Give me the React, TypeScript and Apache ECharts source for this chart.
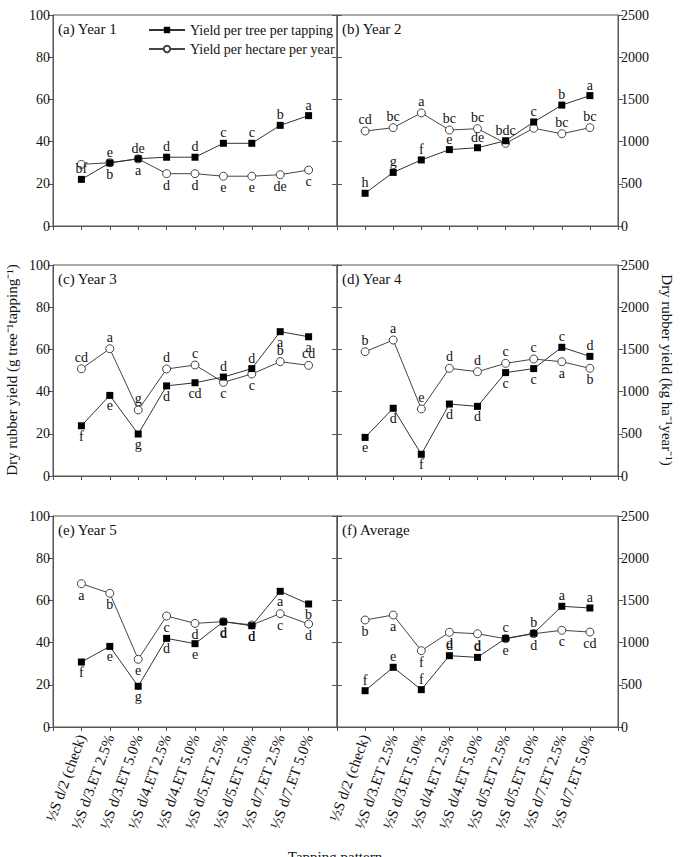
import React, { useEffect, useRef } from "react";
import * as echarts from "echarts";

const categories = [
  "½S d/2 (check)",
  "½S d/3.ET 2.5%",
  "½S d/3.ET 5.0%",
  "½S d/4.ET 2.5%",
  "½S d/4.ET 5.0%",
  "½S d/5.ET 2.5%",
  "½S d/5.ET 5.0%",
  "½S d/7.ET 2.5%",
  "½S d/7.ET 5.0%",
];

const panelTitles = ["(a) Year 1", "(b) Year 2", "(c) Year 3", "(d) Year 4", "(e) Year 5", "(f) Average"];

// Yield per tree per tapping (g tree-1 tapping-1)
const treeY1 = [22.1, 29.9, 31.9, 32.6, 32.6, 39.2, 39.2, 47.7, 52.3];
const treeY2 = [15.5, 25.4, 31.3, 36.2, 37.1, 40.4, 49.3, 57.3, 61.8];
const treeY3 = [23.8, 38.2, 19.9, 42.7, 44.2, 46.9, 50.9, 68.4, 66.0];
const treeY4 = [18.3, 32.1, 10.3, 34.1, 33.0, 49.0, 50.9, 61.0, 56.7];
const treeY5 = [30.8, 38.2, 19.3, 42.0, 39.5, 49.9, 48.0, 64.3, 58.3];
const treeAvg = [17.2, 28.3, 17.7, 33.8, 33.0, 42.0, 44.4, 57.2, 56.4];

// Yield per hectare per year (kg ha-1 year-1)
const haY1 = [730, 750, 795, 620, 620, 590, 590, 608, 663];
const haY2 = [1125, 1165, 1340, 1137, 1153, 980, 1158, 1093, 1165];
const haY3 = [1270, 1508, 782, 1268, 1315, 1110, 1209, 1354, 1311];
const haY4 = [1473, 1611, 794, 1276, 1236, 1335, 1386, 1354, 1276];
const haY5 = [1698, 1584, 802, 1315, 1228, 1248, 1209, 1343, 1220];
const haAvg = [1268, 1327, 904, 1122, 1105, 1046, 1105, 1146, 1125];

// significance letters
const treeLab1 = ["bf", "e", "de", "d", "d", "c", "c", "b", "a"];
const treeLab2 = ["h", "g", "f", "e", "de", "bdc", "c", "b", "a"];
const treeLab3 = ["f", "e", "g", "d", "cd", "d", "d", "a", "a"];
const treeLab4 = ["e", "d", "f", "d", "d", "c", "c", "c", "d"];
const treeLab5 = ["f", "e", "g", "d", "e", "d", "d", "a", "b"];
const treeLabAvg = ["f", "e", "f", "d", "d", "c", "b", "a", "a"];

const haLab1 = ["", "b", "a", "d", "d", "e", "e", "de", "c"];
const haLab2 = ["cd", "bc", "a", "bc", "bc", "", "", "bc", "bc"];
const haLab3 = ["cd", "a", "g", "d", "c", "c", "c", "b", "cd"];
const haLab4 = ["b", "a", "e", "d", "d", "c", "c", "a", "b"];
const haLab5 = ["a", "b", "e", "c", "d", "d", "d", "c", "d"];
const haLabAvg = ["b", "a", "f", "d", "d", "e", "d", "c", "cd"];

// label side: t = above, b = below
const treeSide1 = "ttttttttt";
const treeSide2 = "ttttttttt";
const treeSide3 = "bbbbbttbb";
const treeSide4 = "bbbbbbbtt";
const treeSide5 = "bbbbbbbbb";
const treeSideAvg = "ttttttttt";
const haSide1 = "bbbbbbbbb";
const haSide2 = "ttttttttt";
const haSide3 = "tttttbbtt";
const haSide4 = "tttttttbb";
const haSide5 = "bbbbbbbbb";
const haSideAvg = "bbbbbbbbb";

const leftTicks = { min: 0, max: 100, interval: 20 };
const rightTicks = { min: 0, max: 2500, interval: 500 };

const TREE = "Yield per tree per tapping";
const HA = "Yield per hectare per year";

const FONT = "Liberation Serif";

export default function App() {
  const ref = useRef<HTMLDivElement>(null);

  useEffect(() => {
    if (!ref.current) return;
    const chart = echarts.init(ref.current, undefined, { renderer: "svg" });

    const trees = [treeY1, treeY2, treeY3, treeY4, treeY5, treeAvg];
    const has = [haY1, haY2, haY3, haY4, haY5, haAvg];
    const treeLabs = [treeLab1, treeLab2, treeLab3, treeLab4, treeLab5, treeLabAvg];
    const haLabs = [haLab1, haLab2, haLab3, haLab4, haLab5, haLabAvg];
    const treeSides = [treeSide1, treeSide2, treeSide3, treeSide4, treeSide5, treeSideAvg];
    const haSides = [haSide1, haSide2, haSide3, haSide4, haSide5, haSideAvg];

    const colX = [53, 337];
    const colW = [284, 281];
    const rowY = [15, 265, 516];
    const rowH = 211;
    const axisColor = "#555";

    const grids: any[] = [];
    const xAxes: any[] = [];
    const yAxes: any[] = [];
    const series: any[] = [];
    const graphics: any[] = [];

    for (let p = 0; p < 6; p++) {
      const col = p % 2;
      const row = Math.floor(p / 2);
      grids.push({
        left: colX[col],
        top: rowY[row],
        width: colW[col],
        height: rowH,
        show: true,
        borderColor: axisColor,
        borderWidth: 1,
        backgroundColor: "transparent",
      });
      xAxes.push({
        gridIndex: p,
        type: "value",
        min: 0,
        max: 10,
        interval: 1,
        splitLine: { show: false },
        axisLine: { show: true, lineStyle: { color: axisColor, width: 1 } },
        axisTick: { show: true, length: 4, lineStyle: { color: axisColor } },
        axisLabel: {
          show: row === 2,
          rotate: 70,
          margin: 8,
          fontSize: 15,
          fontFamily: FONT,
          color: "#111",
          formatter: (v: number) => (v >= 1 && v <= 9 ? categories[v - 1] : ""),
        },
      });
      yAxes.push({
        gridIndex: p,
        type: "value",
        position: "left",
        ...leftTicks,
        splitLine: { show: false },
        axisLine: { show: true, lineStyle: { color: axisColor } },
        axisTick: { show: true, length: 5, lineStyle: { color: axisColor } },
        axisLabel: {
          show: col === 0,
          fontSize: 14,
          fontFamily: FONT,
          color: "#111",
          margin: 3,
          formatter: (v: number) => String(v),
        },
      });
      yAxes.push({
        gridIndex: p,
        type: "value",
        position: "right",
        ...rightTicks,
        splitLine: { show: false },
        axisLine: { show: true, lineStyle: { color: axisColor } },
        axisTick: { show: true, length: 5, lineStyle: { color: axisColor } },
        axisLabel: {
          show: col === 1,
          fontSize: 14,
          fontFamily: FONT,
          color: "#111",
          margin: 3,
          formatter: (v: number) => String(v),
        },
      });

      const labelStyle = { fontSize: 14, fontFamily: FONT, color: "#111", distance: 0 };

      series.push({
        name: TREE,
        type: "line",
        xAxisIndex: p,
        yAxisIndex: 2 * p,
        symbol: "rect",
        symbolSize: 7,
        itemStyle: { color: "#000" },
        lineStyle: { color: "#333", width: 1 },
        z: 3,
        data: trees[p].map((v, i) => ({
          value: [i + 1, v],
          label: {
            show: true,
            position: treeSides[p][i] === "t" ? "top" : "bottom",
            formatter: treeLabs[p][i],
            ...labelStyle,
          },
        })),
      });
      series.push({
        name: HA,
        type: "line",
        xAxisIndex: p,
        yAxisIndex: 2 * p + 1,
        symbol: "circle",
        symbolSize: 8,
        itemStyle: { color: "#fff", borderColor: "#444", borderWidth: 1 },
        lineStyle: { color: "#444", width: 1 },
        z: 2,
        data: has[p].map((v, i) => ({
          value: [i + 1, v],
          label: {
            show: true,
            position: haSides[p][i] === "t" ? "top" : "bottom",
            formatter: haLabs[p][i],
            ...labelStyle,
          },
        })),
      });

      graphics.push({
        type: "text",
        left: colX[col] + 5,
        top: rowY[row] + 6,
        style: { text: panelTitles[p], fontSize: 15, fontFamily: FONT, fill: "#111" },
      });
    }

    graphics.push({
      type: "text",
      x: 12,
      y: 370,
      rotation: Math.PI / 2,
      style: {
        text: "Dry rubber yield (g tree⁻¹tapping⁻¹)",
        fontSize: 15,
        fontFamily: FONT,
        fill: "#111",
        align: "center",
        verticalAlign: "middle",
      },
    });
    graphics.push({
      type: "text",
      x: 667,
      y: 370,
      rotation: -Math.PI / 2,
      style: {
        text: "Dry rubber yield (kg ha⁻¹year⁻¹)",
        fontSize: 15,
        fontFamily: FONT,
        fill: "#111",
        align: "center",
        verticalAlign: "middle",
      },
    });
    graphics.push({
      type: "text",
      x: 335,
      y: 849,
      style: {
        text: "Tapping pattern",
        fontSize: 15,
        fontFamily: FONT,
        fill: "#111",
        align: "center",
        verticalAlign: "top",
      },
    });

    chart.setOption({
      animation: false,
      backgroundColor: "#fff",
      grid: grids,
      xAxis: xAxes,
      yAxis: yAxes,
      series,
      graphic: graphics,
      legend: {
        data: [TREE, HA],
        orient: "vertical",
        left: 143,
        top: 18,
        itemWidth: 36,
        itemHeight: 8,
        itemGap: 5,
        selectedMode: false,
        textStyle: { fontSize: 14, fontFamily: FONT, color: "#111" },
      },
    });

    return () => chart.dispose();
  }, []);

  return (
    <div
      ref={ref}
      style={{ position: "absolute", left: 0, top: 0, width: 686, height: 857, background: "#fff" }}
    />
  );
}
